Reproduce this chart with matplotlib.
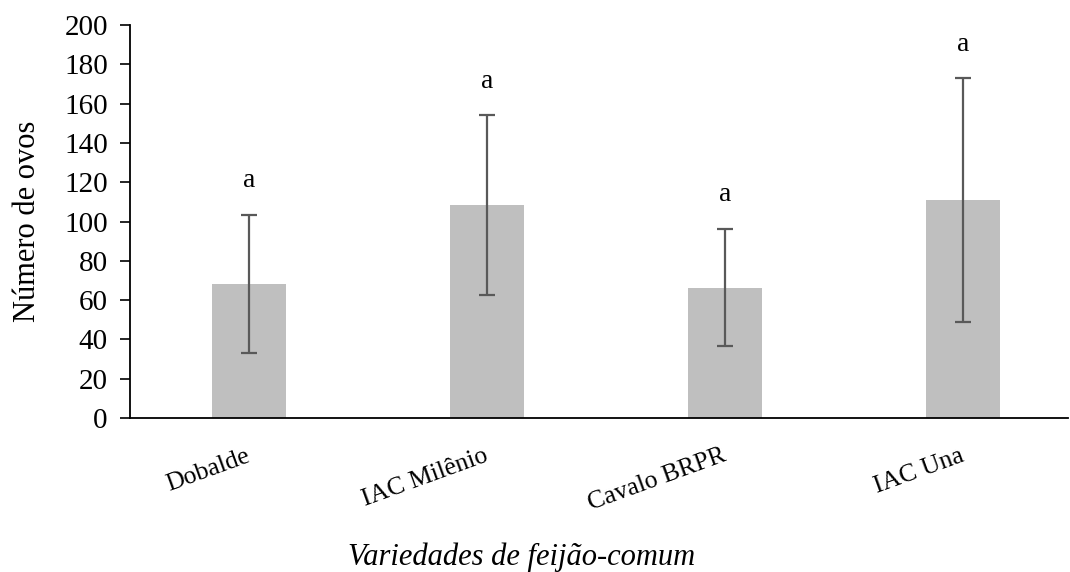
import matplotlib.pyplot as plt
import matplotlib.transforms as mtransforms

# médias e desvios
variedades = ["Dobalde", "IAC Milênio", "Cavalo BRPR", "IAC Una"]
medias = [68.3, 108.2, 66.4, 110.8]
desvios = [35.0, 45.8, 30.0, 62.0]
letras = ["a", "a", "a", "a"]

plt.rcParams['font.family'] = ['Liberation Serif', 'TeX Gyre Termes', 'DejaVu Serif']

fig = plt.figure(figsize=(10.70, 5.72), dpi=100)
ax = fig.add_axes([130/1070, 1-418/572, (1068-130)/1070, (418-25)/572])

x = list(range(len(variedades)))
ax.bar(x, medias, width=0.31, color='#bfbfbf', zorder=1)
ax.errorbar(x, medias, yerr=desvios, fmt='none', ecolor='#595959',
            elinewidth=1.6, capsize=5.5, capthick=1.6, zorder=2)

for xi, m, d, l in zip(x, medias, desvios, letras):
    ax.text(xi, m + d + 11, l, ha='center', va='bottom', fontsize=20)

ax.set_xlim(-0.5, 3.44)
ax.set_ylim(0, 200)
ax.set_yticks(range(0, 201, 20))
ax.tick_params(axis='y', labelsize=21, direction='out', length=7, width=1.2, pad=9)
ax.tick_params(axis='x', length=0)
ax.set_xticks(x)
ax.set_xticklabels(variedades, rotation=20, ha='right', rotation_mode='anchor', fontsize=18.5)
desloc = mtransforms.ScaledTranslation(-0.04, -0.22, fig.dpi_scale_trans)
for lab in ax.get_xticklabels():
    lab.set_transform(lab.get_transform() + desloc)

ax.spines['top'].set_visible(False)
ax.spines['right'].set_visible(False)
ax.spines['left'].set_linewidth(1.3)
ax.spines['bottom'].set_linewidth(1.3)

ax.set_ylabel("Número de ovos", fontsize=22, labelpad=16)
fig.text(522/1070, 1-557/572, "Variedades de feijão-comum", ha='center', va='center',
         fontsize=22, style='italic')

fig.savefig("out.png", dpi=100)
